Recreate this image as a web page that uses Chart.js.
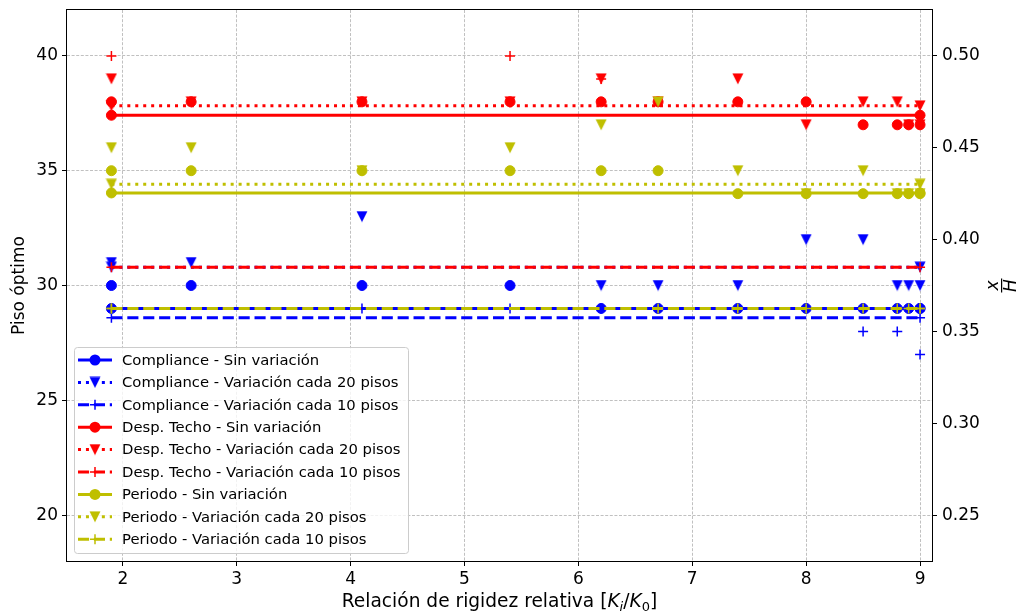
<!DOCTYPE html>
<html>
<head>
<meta charset="utf-8">
<script src="https://cdn.jsdelivr.net/npm/chart.js@4.4.1/dist/chart.umd.min.js"></script>
<style>
  html, body { margin: 0; padding: 0; background: #ffffff; }
  canvas { display: block; }
</style>
</head>
<body>
<canvas id="chart" width="1023" height="612"></canvas>
<script>
// Relative stiffness ratios K_i/K_0 of the analysed buildings
const ratios = [1.9, 2.6, 4.1, 5.4, 6.2, 6.7, 7.4, 8.0, 8.5, 8.8, 8.9, 9.0];

// Optimal floor per criterion and stiffness-variation scheme (null = not evaluated)
const complianceSinVar = [30, 30, 30, 30, 29, 29, 29, 29, 29, 29, 29, 29];
const compliance20     = [31, 31, 33, null, 30, 30, 30, 32, 32, 30, 30, 30];
const compliance10     = [29, null, 29, 29, 29, 29, 29, 29, 28, 28, 29, 27];
const despSinVar       = [38, 38, 38, 38, 38, 38, 38, 38, 37, 37, 37, 37];
const desp20           = [39, 38, 38, 38, 39, 38, 39, 37, 38, 38, 37, 37];
const desp10           = [40, null, null, 40, 39, null, null, null, null, null, null, null];
const periodoSinVar    = [35, 35, 35, 35, 35, 35, 34, 34, 34, 34, 34, 34];
const periodo20        = [36, 36, 35, 36, 37, 38, 35, 34, 35, 34, 34, 34];
const periodo10        = [29, null, null, null, null, 29, 29, 29, 29, 29, 29, 29];

// Relative height x/H of the representative level: [Compliance, Desp. Techo, Periodo]
const xhSinVariacion = [0.3625, 0.4677, 0.4254];
const xhCada20       = [0.3850, 0.4728, 0.4301];
const xhCada10       = [0.3575, 0.3850, 0.3625];

// Axis ticks
const xTicks  = [2, 3, 4, 5, 6, 7, 8, 9];
const yTicks  = [20, 25, 30, 35, 40];
const y2Ticks = [0.25, 0.30, 0.35, 0.40, 0.45, 0.50];

const criteria   = ['Compliance', 'Desp. Techo', 'Periodo'];
const variations = ['Sin variación', 'Variación cada 20 pisos', 'Variación cada 10 pisos'];

const FONT = "'DejaVu Sans', 'Noto Sans', sans-serif";
const COLORS = ['#0000ff', '#ff0000', '#bfbf00'];
const MARKERS = ['circle', 'triangleDown', 'cross'];
const DASHES = [[], [3, 4.95], [11.1, 4.8]];

const seriesValues = [
  [complianceSinVar, compliance20, compliance10],
  [despSinVar, desp20, desp10],
  [periodoSinVar, periodo20, periodo10]
];
const levels = [xhSinVariacion, xhCada20, xhCada10];

// Downward triangle marker as a small bitmap
function triangleDown(color) {
  const c = document.createElement('canvas');
  c.width = 12; c.height = 12;
  const g = c.getContext('2d');
  g.fillStyle = color;
  g.beginPath();
  g.moveTo(0.5, 0.5); g.lineTo(11.5, 0.5); g.lineTo(6, 11.5);
  g.closePath();
  g.fill();
  return c;
}
const triImages = COLORS.map(triangleDown);

function pointOpts(gi, vi) {
  const color = COLORS[gi];
  const kind = MARKERS[vi];
  if (kind === 'circle') {
    return { pointStyle: 'circle', pointRadius: 5, pointBorderWidth: 1,
             pointBackgroundColor: color, pointBorderColor: color };
  }
  if (kind === 'triangleDown') {
    return { pointStyle: triImages[gi], pointRadius: 6, pointBorderWidth: 0,
             pointBackgroundColor: color, pointBorderColor: color };
  }
  return { pointStyle: 'cross', pointRadius: 5, pointBorderWidth: 1.5,
           pointBackgroundColor: color, pointBorderColor: color };
}

// Build datasets: scatter of optimal floors + horizontal x/H reference line
const datasets = [];
criteria.forEach((crit, gi) => {
  variations.forEach((vari, vi) => {
    const vals = seriesValues[gi][vi];
    const pts = [];
    ratios.forEach((r, i) => { if (vals[i] !== null) pts.push({ x: r, y: vals[i] }); });
    datasets.push(Object.assign({
      label: crit + ' - ' + vari + ' (puntos)',
      data: pts, yAxisID: 'y', showLine: false
    }, pointOpts(gi, vi)));
    const lv = levels[vi][gi];
    datasets.push(Object.assign({
      label: crit + ' - ' + vari,
      data: [{ x: ratios[0], y: lv }, { x: ratios[ratios.length - 1], y: lv }],
      yAxisID: 'y2', showLine: true,
      borderColor: COLORS[gi], borderWidth: 3, borderDash: DASHES[vi],
      borderCapStyle: 'butt', fill: false
    }, pointOpts(gi, vi)));
  });
});
// first dataset at the bottom, last on top
const N = datasets.length;
datasets.forEach((d, k) => { d.order = N - k; d.clip = false; });

function setTicks(list) {
  return axis => { axis.ticks = list.map(v => ({ value: v })); };
}
function fixWidth(w) {
  return s => { s.width = w; s.paddingTop = 0; s.paddingBottom = 0; };
}

const gridCommon = { color: '#b0b0b0', lineWidth: 0.8, tickLength: 5, tickColor: '#000000', tickWidth: 1 };
// the axis lines themselves come from the frame plugin; dash applies to grid lines
const borderCommon = { display: false, color: '#000000', width: 1, dash: [3, 1.6] };
const tickFont = { family: FONT, size: 17 };

// Plot frame on all four sides
const framePlugin = {
  id: 'frame',
  afterDatasetsDraw(chart) {
    const { ctx, chartArea: a } = chart;
    ctx.save();
    ctx.strokeStyle = '#000000';
    ctx.lineWidth = 1;
    ctx.strokeRect(Math.round(a.left) - 0.5, Math.round(a.top) - 0.5,
                   Math.round(a.right - a.left) + 1, Math.round(a.bottom - a.top) + 1);
    ctx.restore();
  }
};

function drawMarker(ctx, gi, vi, x, y) {
  const color = COLORS[gi];
  const kind = MARKERS[vi];
  ctx.save();
  ctx.fillStyle = color; ctx.strokeStyle = color;
  if (kind === 'circle') {
    ctx.beginPath(); ctx.arc(x, y, 5.5, 0, Math.PI * 2); ctx.fill();
  } else if (kind === 'triangleDown') {
    ctx.drawImage(triImages[gi], x - 6, y - 6);
  } else {
    ctx.lineWidth = 1.5;
    ctx.beginPath();
    ctx.moveTo(x - 5, y); ctx.lineTo(x + 5, y);
    ctx.moveTo(x, y - 5); ctx.lineTo(x, y + 5);
    ctx.stroke();
  }
  ctx.restore();
}

// Axis titles and legend box
const annotationPlugin = {
  id: 'annotations',
  afterDraw(chart) {
    const { ctx, chartArea: a } = chart;
    ctx.save();
    ctx.fillStyle = '#000000';

    // left title
    ctx.font = '17px ' + FONT;
    ctx.textAlign = 'center';
    ctx.textBaseline = 'middle';
    ctx.save();
    ctx.translate(20, (a.top + a.bottom) / 2);
    ctx.rotate(-Math.PI / 2);
    ctx.fillText('Piso óptimo', 0, 0);
    ctx.restore();

    // bottom title with K_i / K_0
    const size = 18.6, sub = 13;
    const parts = [
      { t: 'Relación de rigidez relativa [', f: size + 'px ' + FONT, dy: 0 },
      { t: 'K', f: 'italic ' + size + 'px ' + FONT, dy: 0 },
      { t: 'i', f: 'italic ' + sub + 'px ' + FONT, dy: 4 },
      { t: '/', f: size + 'px ' + FONT, dy: 0 },
      { t: 'K', f: 'italic ' + size + 'px ' + FONT, dy: 0 },
      { t: '0', f: sub + 'px ' + FONT, dy: 4 },
      { t: ']', f: size + 'px ' + FONT, dy: 0 }
    ];
    let total = 0;
    parts.forEach(p => { ctx.font = p.f; p.w = ctx.measureText(p.t).width; total += p.w; });
    let x = (a.left + a.right) / 2 - total / 2;
    const by = 607;
    ctx.textAlign = 'left';
    ctx.textBaseline = 'alphabetic';
    parts.forEach(p => { ctx.font = p.f; ctx.fillText(p.t, x, by + p.dy); x += p.w; });

    // right title: x over H, rotated
    ctx.save();
    ctx.translate(1002, (a.top + a.bottom) / 2);
    ctx.rotate(-Math.PI / 2);
    ctx.font = 'italic 17px ' + FONT;
    ctx.textAlign = 'center';
    ctx.textBaseline = 'alphabetic';
    ctx.fillText('x', 0, -4);
    ctx.fillRect(-7, -1, 14, 1.2);
    ctx.fillText('H', 0, 14);
    ctx.restore();

    // legend
    const lx = 74, ly = 347, lw = 334, lh = 206;
    ctx.beginPath();
    if (ctx.roundRect) ctx.roundRect(lx + 0.5, ly + 0.5, lw, lh, 3); else ctx.rect(lx + 0.5, ly + 0.5, lw, lh);
    ctx.fillStyle = 'rgba(255,255,255,0.8)';
    ctx.fill();
    ctx.strokeStyle = '#cccccc';
    ctx.lineWidth = 1;
    ctx.stroke();

    ctx.font = '14.8px ' + FONT;
    ctx.textAlign = 'left';
    ctx.textBaseline = 'middle';
    let row = 0;
    criteria.forEach((crit, gi) => {
      variations.forEach((vari, vi) => {
        const cy = 360 + row * 22.4;
        ctx.save();
        ctx.strokeStyle = COLORS[gi];
        ctx.lineWidth = 3;
        ctx.lineCap = 'butt';
        ctx.setLineDash(DASHES[vi]);
        ctx.beginPath(); ctx.moveTo(78, cy); ctx.lineTo(112, cy); ctx.stroke();
        ctx.restore();
        drawMarker(ctx, gi, vi, 95, cy);
        ctx.fillStyle = '#000000';
        ctx.fillText(crit + ' - ' + vari, 122, cy + 1);
        row++;
      });
    });
    ctx.restore();
  }
};

new Chart(document.getElementById('chart').getContext('2d'), {
  type: 'line',
  data: { datasets },
  options: {
    responsive: false,
    animation: false,
    events: [],
    layout: { padding: { top: 10, left: 0, right: 0, bottom: 0 } },
    plugins: { legend: { display: false }, tooltip: { enabled: false } },
    scales: {
      x: {
        type: 'linear', position: 'bottom', min: 1.51, max: 9.105,
        afterBuildTicks: setTicks(xTicks),
        afterFit: s => { s.height = 51; s.paddingLeft = 0; s.paddingRight = 0; },
        grid: gridCommon, border: borderCommon,
        ticks: { font: tickFont, color: '#000000', padding: 3, maxRotation: 0, callback: v => String(v) }
      },
      y: {
        type: 'linear', position: 'left', min: 18, max: 42,
        afterBuildTicks: setTicks(yTicks),
        afterFit: fixWidth(67),
        grid: gridCommon, border: borderCommon,
        ticks: { font: tickFont, color: '#000000', padding: 4, callback: v => String(v) }
      },
      y2: {
        type: 'linear', position: 'right', min: 0.225, max: 0.525,
        afterBuildTicks: setTicks(y2Ticks),
        afterFit: fixWidth(91),
        grid: Object.assign({}, gridCommon, { drawOnChartArea: false }),
        border: borderCommon,
        ticks: { font: tickFont, color: '#000000', padding: 5, callback: v => v.toFixed(2) }
      }
    }
  },
  plugins: [framePlugin, annotationPlugin]
});
</script>
</body>
</html>
